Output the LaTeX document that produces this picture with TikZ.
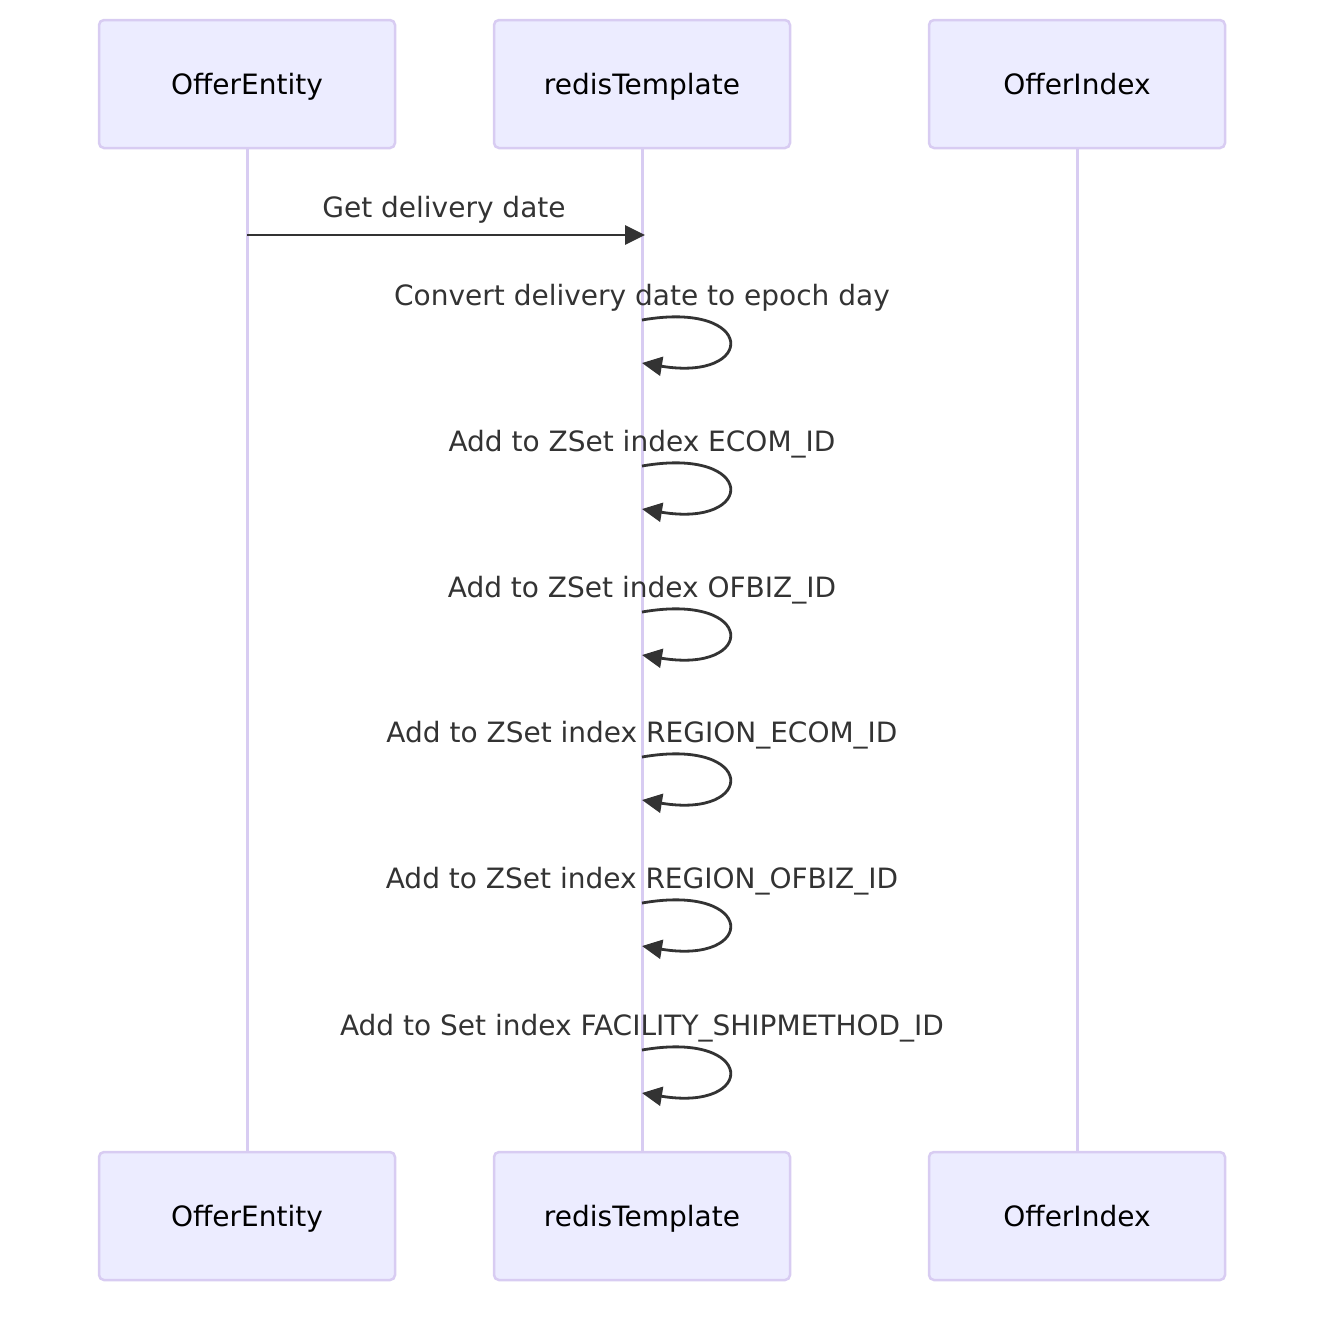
\documentclass[tikz,border=0pt]{standalone}
\usepackage{fontspec}
\setmainfont{DejaVu Sans}
\usepackage{xcolor}
\usetikzlibrary{arrows.meta}
\usetikzlibrary{positioning}
\definecolor{actorfill}{HTML}{ECECFF}
\definecolor{actorline}{HTML}{D8CCF2}
\definecolor{msgcol}{HTML}{333333}

\begin{document}
\begin{tikzpicture}[x=1pt,y=-1pt,>={Triangle[length=20pt,width=19pt]}, font=\fontsize{28}{32}\selectfont]
  \tikzstyle{actor}=[draw=actorline, line width=2.5pt, fill=actorfill, rounded corners=5pt, minimum width=296pt, minimum height=128pt, inner sep=0pt, text height=21pt, text depth=0pt, text=black]
  \tikzstyle{life}=[draw=actorline, line width=3pt]
  \tikzstyle{msg}=[draw=msgcol, line width=2.8pt, ->]
  \tikzstyle{lbl}=[text=msgcol, inner sep=0pt, text height=21pt, text depth=0pt]
  \useasboundingbox (0,0) rectangle (1340,1318);
  % lifelines
  \coordinate (EntTop) at (247,148);
  \coordinate (EntBot) at (247,1152);
  \coordinate (RedTop) at (642,148);
  \coordinate (RedBot) at (642,1152);
  \coordinate (IdxTop) at (1077,148);
  \coordinate (IdxBot) at (1077,1152);
  \draw[life] (EntTop) -- (EntBot);
  \draw[life] (RedTop) -- (RedBot);
  \draw[life] (IdxTop) -- (IdxBot);
  % actors
  \node[actor] (Ent)  at (247,84)   {OfferEntity};
  \node[actor] (Red)  at (642,84)   {redisTemplate};
  \node[actor] (Idx)  at (1077,84)  {OfferIndex};
  \node[actor] (Ent2) at (247,1216) {OfferEntity};
  \node[actor] (Red2) at (642,1216) {redisTemplate};
  \node[actor] (Idx2) at (1077,1216) {OfferIndex};
  % messages
  \coordinate (m0a) at (247,235);
  \coordinate (m0b) at (645,235);
  \node[lbl] (l0) at (444,207) {Get delivery date};
  \draw[msg] (m0a) -- (m0b);
  \foreach \y/\txt [count=\i] in {295/Convert delivery date to epoch day,
                                  441/Add to ZSet index ECOM\_ID,
                                  587/Add to ZSet index OFBIZ\_ID,
                                  732/Add to ZSet index REGION\_ECOM\_ID,
                                  878/Add to ZSet index REGION\_OFBIZ\_ID,
                                  1025/Add to Set index FACILITY\_SHIPMETHOD\_ID}
  {
    \node[lbl] (l\i) at (642,\y) {\txt};
    \coordinate (s\i) at (642,\y+25);
    \coordinate (e\i) at (642,\y+68);
    \draw[msg] (s\i) .. controls (757,\y+5) and (757,\y+87) .. (e\i);
  }
\end{tikzpicture}
\end{document}
